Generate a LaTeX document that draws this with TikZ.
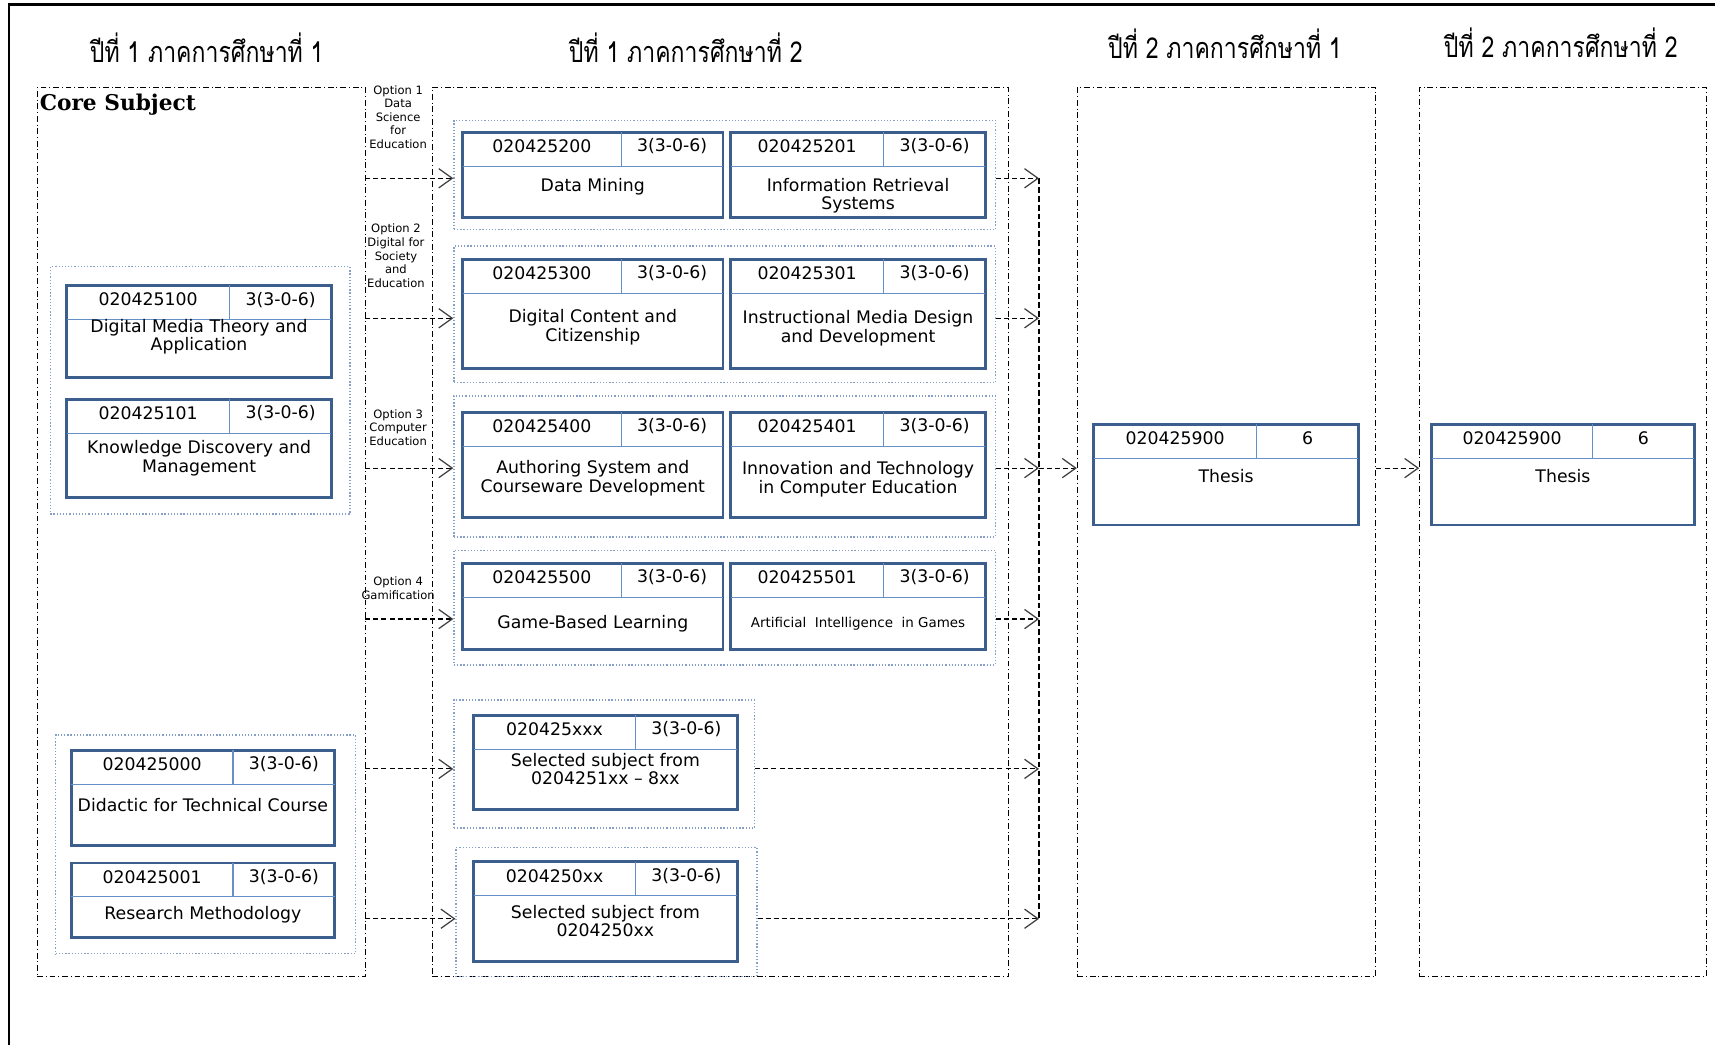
\documentclass[tikz,border=0pt]{standalone}
\usepackage{fontspec}
\setmainfont{DejaVu Sans}
\newfontfamily\thaifont[Script=Thai,FakeStretch=0.8]{Loma}
\newfontfamily\corefont{DejaVu Serif}
\usetikzlibrary{arrows.meta,fit}

\definecolor{boxblue}{HTML}{3B5E8C}
\definecolor{lineblue}{HTML}{6590C8}
\definecolor{grpblue}{HTML}{859FC6}
\definecolor{tipgray}{HTML}{404040}

\tikzset{
  crsbox/.style={draw=boxblue, line width=1.5pt, inner sep=0pt},
  crsline/.style={draw=lineblue, line width=0.6pt},
  grpbox/.style={draw=grpblue, densely dotted, line width=0.65pt, inner sep=0pt},
  colbox/.style={draw=black, dash pattern=on 3pt off 1.5pt on 0.5pt off 1.5pt, line width=0.55pt, inner sep=0pt},
  flow/.style={draw=black, dash pattern=on 2.6pt off 1.6pt, line width=0.6pt,
    -{Straight Barb[length=7pt,width=10pt,line width=0.65pt,color=tipgray]}},
  busline/.style={draw=black, dash pattern=on 3pt off 1.6pt, line width=0.7pt},
  codetxt/.style={font=\fontsize{9}{9.7}\selectfont, inner sep=0pt},
  titletxt/.style={font=\fontsize{9}{9.7}\selectfont, align=center, inner sep=0pt},
  opttxt/.style={font=\fontsize{6}{7.1}\selectfont, align=center, inner sep=0pt},
  semtitle/.style={font=\thaifont\fontsize{15}{18}\selectfont, inner sep=0pt},
}

% one course: name, left, top, right, bottom, code, credit, title, title y
\newcommand{\course}[9]{%
  \node[crsbox, fit={(#2,#3) (#4,#5)}] (#1) {};
  \draw[crsline] (#2,#3+31) -- (#4,#3+31);
  \draw[crsline] (#4-93,#3) -- (#4-93,#3+31);
  \node[codetxt] (#1-code) at ({(#2+#4-93)/2},#3+13) {#6};
  \node[codetxt] (#1-cr) at (#4-46.5,#3+13) {#7};
  \node[titletxt] (#1-title) at ({(#2+#4)/2},#9) {#8};
}

\begin{document}
\begin{tikzpicture}[x=0.02cm, y=-0.02cm]
  \useasboundingbox (0,0) rectangle (1568,955);

  % outer frame
  \draw[line width=1.2pt] (1568,4) -- (8,4) -- (8,955);

  % semester titles
  \node[semtitle] (t1) at (189,44) {ปีที่ 1 ภาคการศึกษาที่ 1};
  \node[semtitle] (t2) at (627,44) {ปีที่ 1 ภาคการศึกษาที่ 2};
  \node[semtitle] (t3) at (1120,40) {ปีที่ 2 ภาคการศึกษาที่ 1};
  \node[semtitle] (t4) at (1427,39) {ปีที่ 2 ภาคการศึกษาที่ 2};

  % semester columns
  \node[colbox, fit={(34,80) (334,893)}] (core) {};
  \node[colbox, fit={(395,80) (922,893)}] (sem2) {};
  \node[colbox, fit={(985,80) (1258,893)}] (y2s1) {};
  \node[colbox, fit={(1298,80) (1560,893)}] (y2s2) {};

  \node[anchor=west, inner sep=0pt, font=\corefont\bfseries\fontsize{11.3}{13}\selectfont] (coretitle) at (36,96) {Core Subject};

  % groups
  \node[grpbox, fit={(46,244) (320,470)}] (g1) {};
  \node[grpbox, fit={(51,672) (325,872)}] (g0) {};
  \node[grpbox, fit={(415,110) (910,210)}] (opt1) {};
  \node[grpbox, fit={(415,225) (910,350)}] (opt2) {};
  \node[grpbox, fit={(415,362) (910,491)}] (opt3) {};
  \node[grpbox, fit={(415,503) (910,608)}] (opt4) {};
  \node[grpbox, fit={(415,640) (690,757)}] (sel1) {};
  \node[grpbox, fit={(417,775) (692,893)}] (sel0) {};

  % courses
  \course{c100}{61}{261}{303}{345}{020425100}{3(3-0-6)}{Digital Media Theory and\\Application}{308}
  \course{c101}{61}{365}{303}{455}{020425101}{3(3-0-6)}{Knowledge Discovery and\\Management}{419}
  \course{c000}{65}{686}{306}{773}{020425000}{3(3-0-6)}{Didactic for Technical Course}{736}
  \course{c001}{65}{789}{306}{857}{020425001}{3(3-0-6)}{Research Methodology}{836}
  \course{c200}{423}{121}{661}{199}{020425200}{3(3-0-6)}{Data Mining}{171}
  \course{c201}{668}{121}{901}{199}{020425201}{3(3-0-6)}{Information Retrieval\\Systems}{179}
  \course{c300}{423}{237}{661}{337}{020425300}{3(3-0-6)}{Digital Content and\\Citizenship}{299}
  \course{c301}{668}{237}{901}{337}{020425301}{3(3-0-6)}{Instructional Media Design\\and Development}{300}
  \course{c400}{423}{377}{661}{473}{020425400}{3(3-0-6)}{Authoring System and\\Courseware Development}{437}
  \course{c401}{668}{377}{901}{473}{020425401}{3(3-0-6)}{Innovation and Technology\\in Computer Education}{438}
  \course{c500}{423}{515}{661}{594}{020425500}{3(3-0-6)}{Game-Based Learning}{570}
  \course{c501}{668}{515}{901}{594}{020425501}{3(3-0-6)}{\fontsize{7}{8}\selectfont Artificial~ Intelligence~ in Games}{570}
  \course{cxxx}{433}{654}{674}{740}{020425xxx}{3(3-0-6)}{Selected subject from\\0204251xx -- 8xx}{703}
  \course{c250xx}{433}{788}{674}{879}{0204250xx}{3(3-0-6)}{Selected subject from\\0204250xx}{842}
  \course{th1}{1000}{388}{1242}{480}{020425900}{6}{Thesis}{435}
  \course{th2}{1309}{388}{1549}{480}{020425900}{6}{Thesis}{435}

  % option labels
  \node[opttxt] (o1) at (364,107) {Option 1\\Data\\Science\\for\\Education};
  \node[opttxt] (o2) at (362,234) {Option 2\\Digital for\\Society\\and\\Education};
  \node[opttxt] (o3) at (364,391) {Option 3\\Computer\\Education};
  \node[opttxt] (o4) at (364,538) {Option 4\\Gamification};

  % arrows into semester 2
  \coordinate (a1) at (334,163);
  \coordinate (a2) at (334,291);
  \coordinate (a3) at (334,428);
  \coordinate (a4) at (334,566);
  \coordinate (a5) at (334,703);
  \coordinate (a6) at (334,840);
  \draw[flow] (a1) -- (a1 -| opt1.west);
  \draw[flow] (a2) -- (a2 -| opt2.west);
  \draw[flow] (a3) -- (a3 -| opt3.west);
  \draw[flow] (a4) -- (a4 -| opt4.west);
  \draw[flow] (a5) -- (a5 -| sel1.west);
  \draw[flow] (a6) -- (a6 -| sel0.west);

  % collector to year 2
  \coordinate (busT) at (950,163);
  \coordinate (busB) at (950,840);
  \draw[busline] (busT) -- (busB);
  \draw[flow] (opt1.east |- a1) -- (a1 -| busT);
  \draw[flow] (opt2.east |- a2) -- (a2 -| busT);
  \draw[flow] (opt3.east |- a3) -- (a3 -| busT);
  \draw[flow] (opt4.east |- a4) -- (a4 -| busT);
  \draw[flow] (sel1.east |- a5) -- (a5 -| busT);
  \draw[flow] (sel0.east |- a6) -- (a6 -| busT);
  \draw[flow] (busT |- a3) -- (a3 -| y2s1.west);
  \draw[flow] (y2s1.east |- a3) -- (a3 -| y2s2.west);
\end{tikzpicture}
\end{document}
